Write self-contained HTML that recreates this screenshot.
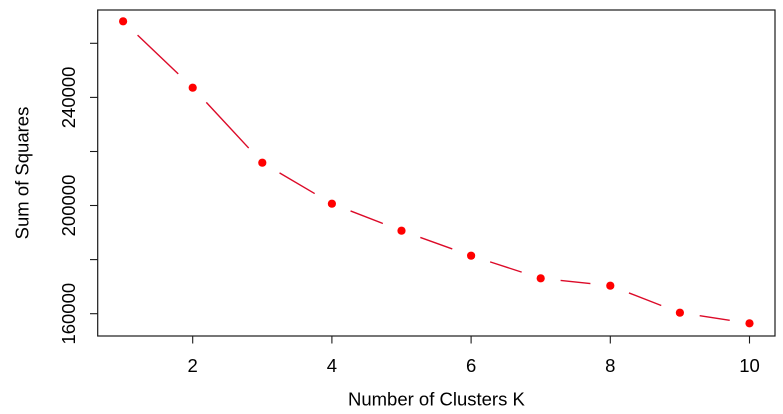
<!DOCTYPE html>
<html>
<head>
<meta charset="utf-8">
<style>
  html, body { margin: 0; padding: 0; background: #ffffff; }
  svg { display: block; }
  text { font-family: "Liberation Sans", Arial, Helvetica, sans-serif; fill: #000; }
</style>
</head>
<body>
<svg width="783" height="414" viewBox="0 0 783 414" xmlns="http://www.w3.org/2000/svg">
  <rect x="0" y="0" width="783" height="414" fill="#ffffff"/>

  <!-- plot box -->
  <rect x="97.7" y="10" width="677.3" height="326" fill="none" stroke="#1a1a1a" stroke-width="1.2"/>

  <!-- y ticks -->
  <g stroke="#1a1a1a" stroke-width="1.1">
    <line x1="90" y1="313.7" x2="97.7" y2="313.7"/>
    <line x1="90" y1="259.6" x2="97.7" y2="259.6"/>
    <line x1="90" y1="205.5" x2="97.7" y2="205.5"/>
    <line x1="90" y1="151.5" x2="97.7" y2="151.5"/>
    <line x1="90" y1="97.4" x2="97.7" y2="97.4"/>
    <line x1="90" y1="43.3" x2="97.7" y2="43.3"/>
  </g>
  <!-- y tick labels -->
  <g font-size="18.5" text-anchor="middle">
    <text transform="translate(75,313.7) rotate(-90)">160000</text>
    <text transform="translate(75,205.5) rotate(-90)">200000</text>
    <text transform="translate(75,97.4) rotate(-90)">240000</text>
  </g>
  <!-- y axis label -->
  <text font-size="18.5" text-anchor="middle" transform="translate(28.5,173) rotate(-90)">Sum of Squares</text>

  <!-- x ticks -->
  <g stroke="#1a1a1a" stroke-width="1.1">
    <line x1="192.7" y1="336" x2="192.7" y2="343.5"/>
    <line x1="331.9" y1="336" x2="331.9" y2="343.5"/>
    <line x1="471.1" y1="336" x2="471.1" y2="343.5"/>
    <line x1="610.3" y1="336" x2="610.3" y2="343.5"/>
    <line x1="749.5" y1="336" x2="749.5" y2="343.5"/>
  </g>
  <g font-size="18.5" text-anchor="middle">
    <text x="192.7" y="372">2</text>
    <text x="331.9" y="372">4</text>
    <text x="471.1" y="372">6</text>
    <text x="610.3" y="372">8</text>
    <text x="749.5" y="372">10</text>
  </g>
  <text font-size="18.5" text-anchor="middle" x="436.4" y="405.5">Number of Clusters K</text>

  <!-- line segments (type="b" with gaps) -->
  <g stroke="#dc0a28" stroke-width="1.4" fill="none" stroke-linecap="butt">
    <line x1="137.57" y1="35.1" x2="178.23" y2="73.9"/>
    <line x1="206.31" y1="102.36" x2="248.69" y2="148.04"/>
    <line x1="279.53" y1="172.85" x2="314.67" y2="193.55"/>
    <line x1="350.55" y1="210.93" x2="382.85" y2="223.47"/>
    <line x1="420.32" y1="237.46" x2="452.28" y2="248.94"/>
    <line x1="490.12" y1="261.88" x2="521.68" y2="272.12"/>
    <line x1="560.59" y1="280.41" x2="590.41" y2="283.59"/>
    <line x1="628.95" y1="292.93" x2="661.25" y2="305.47"/>
    <line x1="699.67" y1="315.71" x2="729.73" y2="320.29"/>
  </g>

  <!-- points -->
  <g fill="#ff0000">
    <circle cx="123.1" cy="21.3" r="4.1"/>
    <circle cx="192.7" cy="87.7" r="4.1"/>
    <circle cx="262.3" cy="162.7" r="4.1"/>
    <circle cx="331.9" cy="203.7" r="4.1"/>
    <circle cx="401.5" cy="230.7" r="4.1"/>
    <circle cx="471.1" cy="255.7" r="4.1"/>
    <circle cx="540.7" cy="278.3" r="4.1"/>
    <circle cx="610.3" cy="285.7" r="4.1"/>
    <circle cx="679.9" cy="312.7" r="4.1"/>
    <circle cx="749.5" cy="323.3" r="4.1"/>
  </g>
</svg>
</body>
</html>
